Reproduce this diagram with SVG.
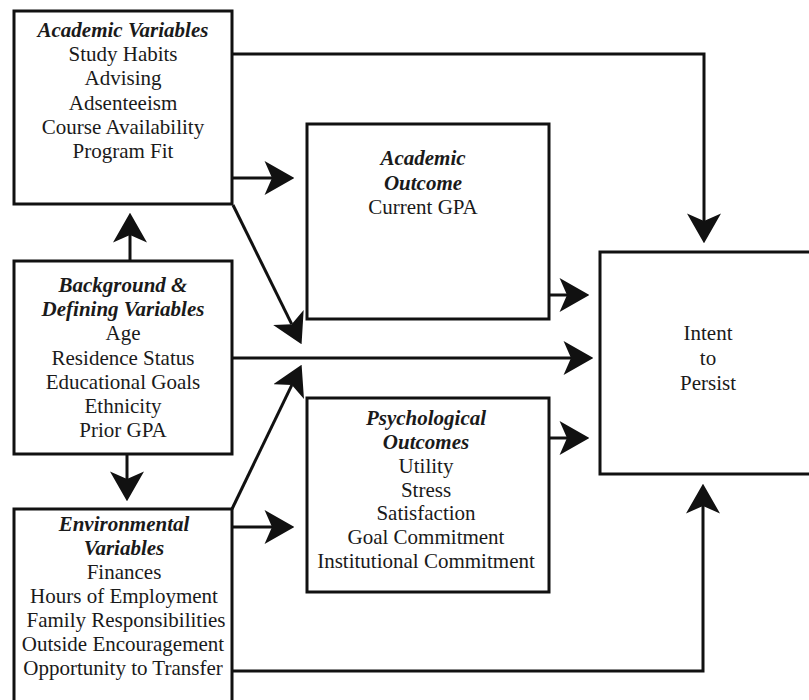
<svg xmlns="http://www.w3.org/2000/svg" width="809" height="700" viewBox="0 0 809 700" font-family="'Liberation Serif', 'Times New Roman', Times, 'DejaVu Serif', serif">
<style>
.box{fill:#fff;stroke:#111;stroke-width:3}
.ln{fill:none;stroke:#111;stroke-width:3}
text{font-family:'Liberation Serif','Times New Roman',Times,'DejaVu Serif',serif;font-size:21px;fill:#1a1a1a;text-anchor:middle}
.t{font-weight:bold;font-style:italic}
</style>
<defs>
<marker id="ah" markerUnits="userSpaceOnUse" markerWidth="30" markerHeight="34" viewBox="0 0 28 32" refX="7" refY="16" orient="auto">
<path d="M0,0 L28,16 L0,32 L7,16 Z" fill="#111"/>
</marker>
</defs>
<rect width="809" height="700" fill="#fff"/>
<g id="connectors">
<path class="ln" d="M232,54 H704 V221" marker-end="url(#ah)"/>
<path class="ln" d="M232,178 H272" marker-end="url(#ah)"/>
<path class="ln" d="M233,205 L291.7,324.2" marker-end="url(#ah)"/>
<path class="ln" d="M232,358 H571" marker-end="url(#ah)"/>
<path class="ln" d="M549,295 H567" marker-end="url(#ah)"/>
<path class="ln" d="M549,438 H567" marker-end="url(#ah)"/>
<path class="ln" d="M130,261 V235" marker-end="url(#ah)"/>
<path class="ln" d="M127,454 V479" marker-end="url(#ah)"/>
<path class="ln" d="M232,509 L291.9,384.9" marker-end="url(#ah)"/>
<path class="ln" d="M232,527 H272" marker-end="url(#ah)"/>
<path class="ln" d="M232,671 H703 V506" marker-end="url(#ah)"/>
</g>
<g id="academic-variables">
<rect class="box" x="14" y="11" width="218" height="193"/>
<text x="123" y="37" class="t">Academic Variables</text>
<text x="123" y="61.2">Study Habits</text>
<text x="123" y="85.4">Advising</text>
<text x="123" y="109.6">Adsenteeism</text>
<text x="123" y="133.8">Course Availability</text>
<text x="123" y="158">Program Fit</text>
</g>
<g id="background">
<rect class="box" x="14" y="261" width="218" height="193"/>
<text x="123" y="292" class="t">Background &amp;</text>
<text x="123" y="316.2" class="t">Defining Variables</text>
<text x="123" y="340.4">Age</text>
<text x="123" y="364.5">Residence Status</text>
<text x="123" y="388.7">Educational Goals</text>
<text x="123" y="412.9">Ethnicity</text>
<text x="123" y="437">Prior GPA</text>
</g>
<g id="environmental">
<rect class="box" x="14" y="509" width="218" height="200"/>
<text x="124" y="531" class="t">Environmental</text>
<text x="124" y="555" class="t">Variables</text>
<text x="124" y="579">Finances</text>
<text x="124" y="603">Hours of Employment</text>
<text x="126" y="627">Family Responsibilities</text>
<text x="123" y="651">Outside Encouragement</text>
<text x="123" y="675">Opportunity to Transfer</text>
</g>
<g id="academic-outcome">
<rect class="box" x="307" y="124" width="242" height="195"/>
<text x="423" y="165" class="t">Academic</text>
<text x="423" y="189.5" class="t">Outcome</text>
<text x="423" y="214">Current GPA</text>
</g>
<g id="psychological-outcomes">
<rect class="box" x="307" y="398" width="242" height="194"/>
<text x="426" y="425" class="t">Psychological</text>
<text x="426" y="448.8" class="t">Outcomes</text>
<text x="426" y="472.7">Utility</text>
<text x="426" y="496.5">Stress</text>
<text x="426" y="520.3">Satisfaction</text>
<text x="426" y="544.2">Goal Commitment</text>
<text x="426" y="568">Institutional Commitment</text>
</g>
<g id="intent">
<rect class="box" x="600" y="252" width="215" height="222"/>
<text x="708" y="340">Intent</text>
<text x="708" y="365">to</text>
<text x="708" y="390">Persist</text>
</g>
</svg>
